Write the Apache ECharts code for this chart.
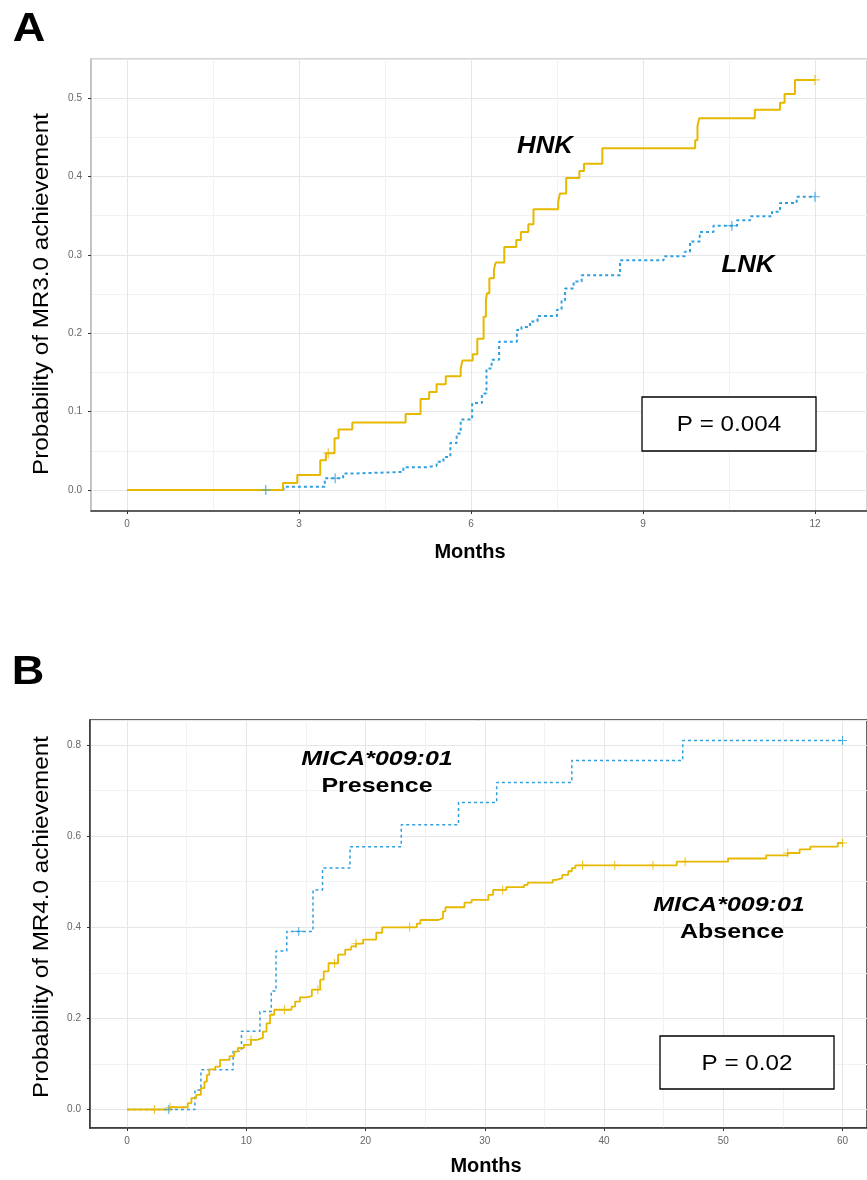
<!DOCTYPE html>
<html>
<head>
<meta charset="utf-8">
<script src="https://cdn.jsdelivr.net/npm/echarts@6/dist/echarts.min.js"></script>
<style>
  html, body { margin: 0; padding: 0; background: #fff; }
  #main { width: 867px; height: 1180px; }
</style>
</head>
<body>
<div id="main"></div>
<script>
// Panel A: MR3.0, months 0-12
var hnkTime = [0, 2.72, 2.97, 3.37, 3.47, 3.62, 3.69, 3.93, 4.86, 5.12, 5.27, 5.40, 5.56, 5.82, 5.85, 6.03, 6.11, 6.22, 6.26, 6.28, 6.32, 6.40, 6.43, 6.58, 6.79, 6.87, 7.00, 7.09, 7.52, 7.55, 7.66, 7.89, 7.97, 8.29, 9.91, 9.95, 9.98, 10.95, 11.39, 11.47, 11.65, 12.0];
var hnkProb = [0, 0.009, 0.019, 0.038, 0.047, 0.066, 0.077, 0.086, 0.097, 0.116, 0.125, 0.135, 0.145, 0.155, 0.165, 0.173, 0.193, 0.221, 0.242, 0.251, 0.270, 0.281, 0.290, 0.310, 0.319, 0.329, 0.339, 0.358, 0.367, 0.378, 0.398, 0.407, 0.416, 0.436, 0.446, 0.464, 0.474, 0.485, 0.494, 0.505, 0.523, 0.523];
var hnkCensor = [3.51, 12.0];

var lnkTime = [0, 2.73, 3.45, 3.77, 3.92, 4.82, 5.23, 5.40, 5.52, 5.64, 5.75, 5.82, 6.02, 6.19, 6.27, 6.36, 6.49, 6.80, 6.88, 7.03, 7.16, 7.50, 7.58, 7.64, 7.79, 7.93, 8.60, 9.36, 9.73, 9.82, 9.99, 10.23, 10.64, 10.87, 11.25, 11.39, 11.68, 12.0];
var lnkProb = [0, 0.004, 0.015, 0.021, 0.023, 0.029, 0.031, 0.036, 0.042, 0.060, 0.072, 0.090, 0.111, 0.123, 0.155, 0.166, 0.189, 0.204, 0.208, 0.215, 0.222, 0.230, 0.242, 0.257, 0.266, 0.274, 0.293, 0.298, 0.304, 0.317, 0.329, 0.337, 0.344, 0.349, 0.355, 0.366, 0.374, 0.374];
var lnkCensor = [2.42, 3.63, 10.55, 12.0];

var ticksA = { x: 3, y: 0.1 };

// Panel B: MR4.0, months 0-60
var presTime = [0, 5.7, 6.2, 8.9, 9.6, 11.15, 12.1, 12.5, 13.4, 15.6, 16.4, 18.7, 23.0, 27.8, 31.0, 37.3, 46.6, 60];
var presProb = [0, 0.043, 0.087, 0.128, 0.172, 0.215, 0.260, 0.348, 0.391, 0.482, 0.530, 0.577, 0.625, 0.674, 0.718, 0.766, 0.810, 0.810];
var presCensor = [3.5, 14.4, 60];

var absTime = [0, 3.6, 5.1, 5.4, 5.8, 6.2, 6.5, 6.7, 6.9, 7.4, 7.8, 8.6, 9.0, 9.3, 9.8, 10.4, 10.9, 11.4, 11.7, 12.0, 12.35, 13.8, 14.1, 14.5, 15.1, 15.5, 16.2, 16.5, 16.9, 17.7, 18.3, 18.8, 19.2, 19.8, 20.9, 21.4, 24.3, 24.6, 26.1, 26.5, 26.7, 28.3, 28.9, 30.3, 30.7, 31.8, 33.3, 33.6, 35.7, 36.0, 36.5, 37.0, 37.3, 37.6, 46.1, 50.4, 53.6, 55.4, 56.4, 57.3, 59.6, 60];
var absProb = [0, 0.005, 0.014, 0.025, 0.032, 0.047, 0.061, 0.076, 0.088, 0.094, 0.109, 0.117, 0.127, 0.135, 0.142, 0.153, 0.157, 0.171, 0.189, 0.208, 0.219, 0.226, 0.237, 0.246, 0.249, 0.263, 0.285, 0.303, 0.321, 0.340, 0.351, 0.358, 0.364, 0.373, 0.388, 0.400, 0.408, 0.416, 0.420, 0.435, 0.444, 0.454, 0.460, 0.471, 0.482, 0.488, 0.493, 0.498, 0.504, 0.508, 0.515, 0.523, 0.530, 0.536, 0.544, 0.551, 0.558, 0.563, 0.571, 0.577, 0.585, 0.585];
var absCensor = [2.3, 3.6, 10.4, 13.2, 16.0, 17.4, 19.2, 23.7, 31.5, 38.2, 40.9, 44.1, 46.8, 55.4, 60];

var ticksB = { x: 10, y: 0.2 };

var yellow = '#E7B800';
var blue = '#2E9FDF';
var font = '"Liberation Sans", Arial, sans-serif';

function pairs(t, p) {
  return t.map(function (v, i) { return [v, p[i]]; });
}
// value of the step curve at a censoring time
function censorPoints(t, p, cens) {
  return cens.map(function (c) {
    var v = 0;
    t.forEach(function (tt, i) { if (tt <= c) v = p[i]; });
    return [c, v];
  });
}

var plus = 'path://M-0.6,-5h1.2v4.4h4.4v1.2h-4.4v4.4h-1.2v-4.4h-4.4v-1.2h4.4z';

function xAxisOf(grid, min, max, step) {
  return {
    type: 'value', gridIndex: grid, min: min, max: max,
    minInterval: step, maxInterval: step,
    axisLine: { show: true, onZero: false, lineStyle: { color: '#333', width: 1.5 } },
    axisTick: { show: true, length: 3, lineStyle: { color: '#333' } },
    axisLabel: { color: '#666', fontSize: 10, fontFamily: font, margin: 8, showMinLabel: false, showMaxLabel: false },
    splitLine: { show: true, lineStyle: { color: '#e6e6e6', width: 1 } },
    minorTick: { show: false, splitNumber: 2 },
    minorSplitLine: { show: true, lineStyle: { color: '#f2f2f2', width: 1 } }
  };
}
function yAxisOf(grid, min, max, step, lineColor) {
  return {
    type: 'value', gridIndex: grid, min: min, max: max,
    minInterval: step, maxInterval: step,
    axisLine: { show: true, onZero: false, lineStyle: { color: lineColor, width: 1.5 } },
    axisTick: { show: true, length: 3, lineStyle: { color: '#333' } },
    axisLabel: {
      color: '#666', fontSize: 10, fontFamily: font, margin: 9, showMinLabel: false, showMaxLabel: false,
      formatter: function (v) { return v.toFixed(1); }
    },
    splitLine: { show: true, lineStyle: { color: '#e6e6e6', width: 1 } },
    minorTick: { show: false, splitNumber: 2 },
    minorSplitLine: { show: true, lineStyle: { color: '#f2f2f2', width: 1 } }
  };
}

function curve(name, grid, t, p, color, width, dash) {
  return {
    name: name, type: 'line', xAxisIndex: grid, yAxisIndex: grid,
    step: 'end', symbol: 'none', data: pairs(t, p), z: dash ? 3 : 4,
    lineStyle: { color: color, width: width, type: dash || 'solid' }
  };
}
function censor(grid, t, p, cens, color, size) {
  return {
    type: 'scatter', xAxisIndex: grid, yAxisIndex: grid,
    symbol: plus, symbolSize: size, data: censorPoints(t, p, cens), z: 5,
    itemStyle: { color: color }
  };
}

// text is a bit wider than plain Arial in the original figure, hence sx
function label(x, y, text, size, weight, style, sx, rot) {
  return {
    type: 'text', x: x, y: y, z: 10, scaleX: sx || 1, rotation: rot || 0,
    style: {
      text: text, fill: '#000', font: (style || 'normal') + ' ' + weight + ' ' + size + 'px ' + font,
      textAlign: 'center', textVerticalAlign: 'middle'
    }
  };
}
function pBox(x, y, w, h, text) {
  return [
    { type: 'rect', shape: { x: x, y: y, width: w, height: h }, z: 9,
      style: { fill: '#fff', stroke: '#000', lineWidth: 1.3 } },
    label(x + w / 2, y + h / 2 + 1, text, 22, 'normal', null, 1.1)
  ];
}

var chart = echarts.init(document.getElementById('main'), null, { renderer: 'canvas' });

var option = {
  backgroundColor: '#fff',
  animation: false,
  grid: [
    { left: 91, top: 59, width: 776, height: 452, show: true, borderColor: '#c8c8c8', borderWidth: 1.5, backgroundColor: '#fff' },
    { left: 90, top: 720, width: 777, height: 408, show: true, borderColor: '#333', borderWidth: 1.5, backgroundColor: '#fff' }
  ],
  xAxis: [
    xAxisOf(0, -0.628, 12.907, ticksA.x),
    xAxisOf(1, -3.10, 62.05, ticksB.x)
  ],
  yAxis: [
    yAxisOf(0, -0.0268, 0.5497, ticksA.y, '#bbb'),
    yAxisOf(1, -0.0406, 0.855, ticksB.y, '#333')
  ],
  series: [
    curve('LNK', 0, lnkTime, lnkProb, blue, 2, [3, 3]),
    curve('HNK', 0, hnkTime, hnkProb, yellow, 2),
    censor(0, lnkTime, lnkProb, lnkCensor, blue, 10),
    censor(0, hnkTime, hnkProb, hnkCensor, yellow, 10),
    curve('Presence', 1, presTime, presProb, blue, 1.5, [3, 3]),
    curve('Absence', 1, absTime, absProb, yellow, 1.8),
    censor(1, presTime, presProb, presCensor, blue, 9),
    censor(1, absTime, absProb, absCensor, yellow, 9)
  ],
  graphic: [
    label(29, 30, 'A', 41, 'bold', null, 1.1),
    label(28, 673, 'B', 41, 'bold', null, 1.1),
    label(42, 294, 'Probability of MR3.0 achievement', 22, 'normal', null, 1.1, Math.PI / 2),
    label(42, 917, 'Probability of MR4.0 achievement', 22, 'normal', null, 1.1, Math.PI / 2),
    label(470, 552, 'Months', 20, 'bold'),
    label(486, 1166, 'Months', 20, 'bold'),
    label(545, 147, 'HNK', 23, 'bold', 'italic', 1.12),
    label(748, 266, 'LNK', 23, 'bold', 'italic', 1.12),
    label(377, 759, 'MICA*009:01', 21, 'bold', 'italic', 1.19),
    label(377, 786, 'Presence', 21, 'bold', null, 1.19),
    label(729, 905, 'MICA*009:01', 21, 'bold', 'italic', 1.19),
    label(732, 932, 'Absence', 21, 'bold', null, 1.19)
  ].concat(pBox(642, 397, 174, 54, 'P = 0.004'), pBox(660, 1036, 174, 53, 'P = 0.02'))
};

chart.setOption(option);
</script>
</body>
</html>
